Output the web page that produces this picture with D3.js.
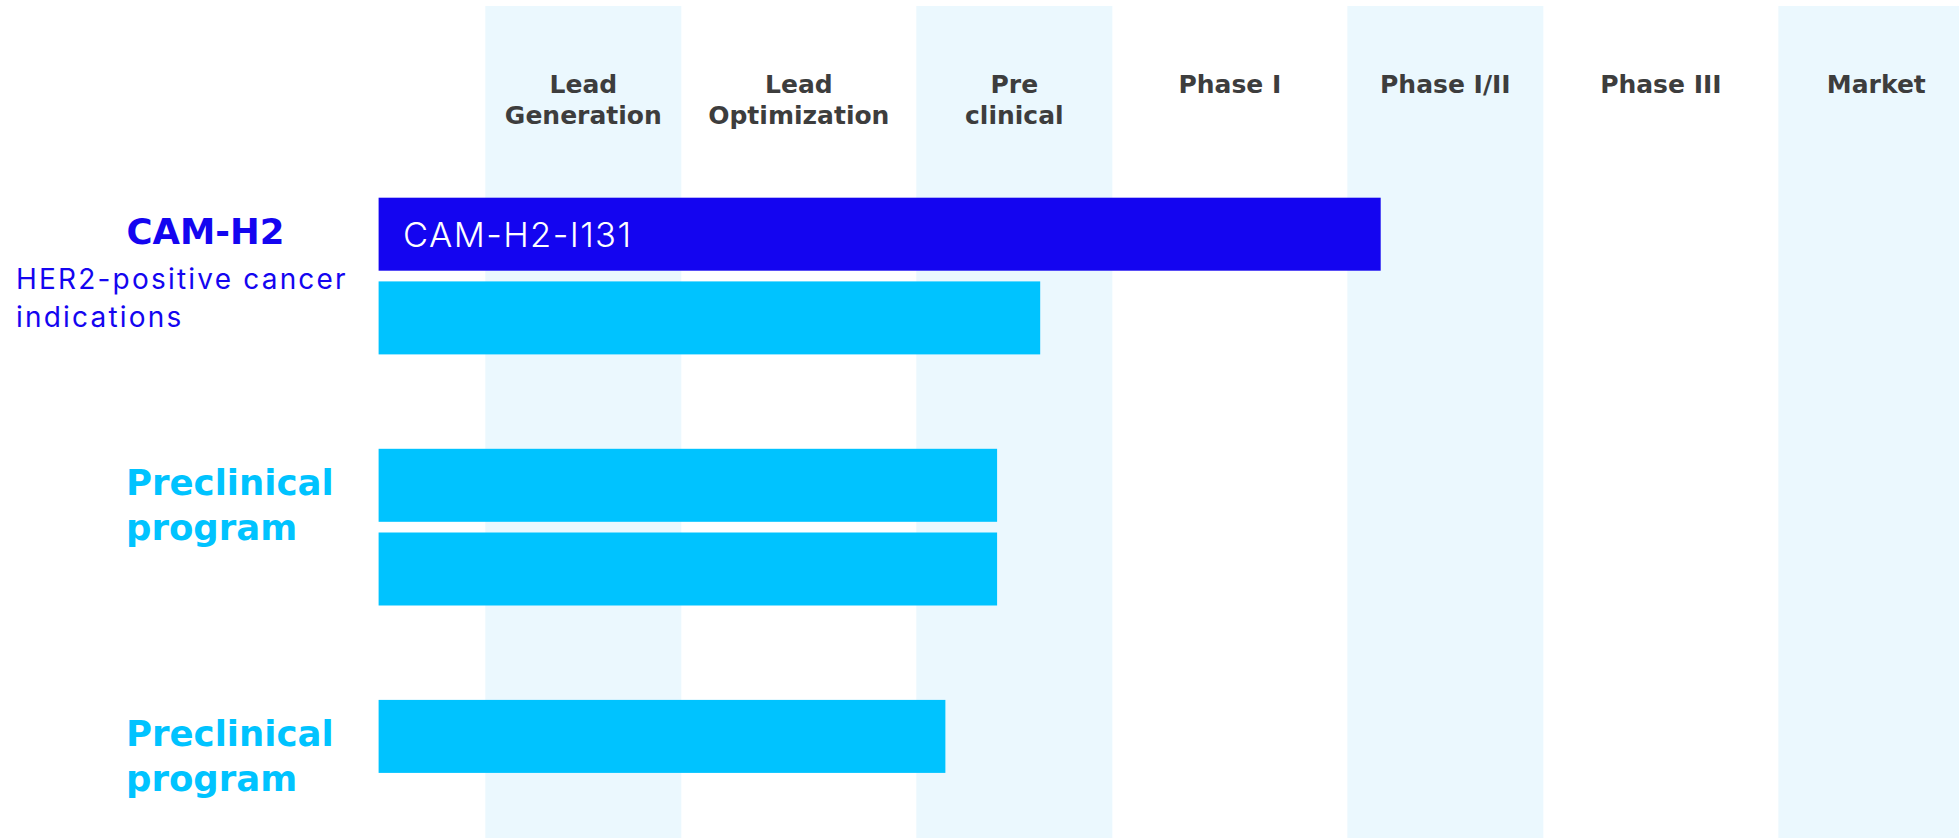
<!DOCTYPE html>
<html>
<head>
<meta charset="utf-8">
<script src="https://cdn.jsdelivr.net/npm/d3@7"></script>
<style>
  html, body { margin: 0; padding: 0; background: #ffffff; }
  svg { display: block; }
</style>
</head>
<body>
<svg id="chart" width="1959" height="839"></svg>
<script>
// ---- data ----
const phases = ["Lead\nGeneration", "Lead\nOptimization", "Pre\nclinical", "Phase I", "Phase I/II", "Phase III", "Market"];
const groupTitles = ["CAM-H2", "Preclinical\nprogram", "Preclinical\nprogram"];
const groupSubtitles = ["HER2-positive cancer\nindications", "", ""];
const groupKinds = ["lead", "preclinical", "preclinical"];
const programGroup = [0, 0, 1, 1, 2];
const programNames = ["CAM-H2-I131", "", "", "", ""];
const programKinds = ["lead", "preclinical", "preclinical", "preclinical", "preclinical"];
// progress measured in phase columns (0 = start of Lead Generation)
const programProgress = [4.2, 2.62, 2.42, 2.42, 2.18];
const progressStart = -0.45;

// ---- style ----
const colors = { lead: "#1405F0", preclinical: "#00C3FF", band: "#EBF8FE", header: "#3d3d3d" };
const boldFont = "'DejaVu Sans', sans-serif";
const lightFont = "Inter, 'DejaVu Sans', sans-serif";

const svg = d3.select("#chart");

// x: progress scale
const x = d3.scaleLinear().domain([progressStart, phases.length]).range([378.6, 1984.1]);
const xPhase = d3.scaleBand().domain(phases).range([x(0), x(phases.length)])
  .paddingInner(0.0905).paddingOuter(0.04525);

// y: slots, with a spacer between groups
const slots = [];
programGroup.forEach((g, i) => {
  if (i > 0 && programGroup[i - 1] !== g) slots.push("gap" + i);
  slots.push("p" + i);
});
const slotStep = 83.7, barH = 73;
const y = d3.scaleBand().domain(slots)
  .range([197.7, 197.7 + slots.length * slotStep - (slotStep - barH)])
  .paddingInner((slotStep - barH) / slotStep).paddingOuter(0);

// shaded phase columns
svg.append("g").selectAll("rect")
  .data(phases.filter((d, i) => i % 2 === 0))
  .join("rect")
  .attr("x", d => xPhase(d))
  .attr("width", xPhase.bandwidth())
  .attr("y", 6)
  .attr("height", 832)
  .attr("fill", colors.band);

// phase headers
const hdr = svg.append("g").selectAll("text")
  .data(phases)
  .join("text")
  .attr("x", d => xPhase(d) + xPhase.bandwidth() / 2)
  .attr("y", 93)
  .attr("text-anchor", "middle")
  .attr("font-family", boldFont)
  .attr("font-weight", "bold")
  .attr("font-size", 25)
  .attr("fill", colors.header);
hdr.selectAll("tspan")
  .data(d => d.split("\n").map(t => ({ t, x: xPhase(d) + xPhase.bandwidth() / 2 })))
  .join("tspan")
  .attr("x", d => d.x)
  .attr("dy", (d, i) => i === 0 ? 0 : 31)
  .text(d => d.t);

// bars
svg.append("g").selectAll("rect")
  .data(programProgress)
  .join("rect")
  .attr("x", x(progressStart))
  .attr("width", d => x(d) - x(progressStart))
  .attr("y", (d, i) => y("p" + i))
  .attr("height", y.bandwidth())
  .attr("fill", (d, i) => colors[programKinds[i]]);

// program names inside bars
svg.append("g").selectAll("text")
  .data(programNames)
  .join("text")
  .attr("x", x(progressStart) + 24.5)
  .attr("y", (d, i) => y("p" + i) + y.bandwidth() / 2 + 12.5)
  .attr("font-family", lightFont)
  .attr("font-weight", 300)
  .attr("font-size", 34.5)
  .attr("letter-spacing", 1.4)
  .attr("fill", "#ffffff")
  .text(d => d);

// group labels
groupTitles.forEach((title, g) => {
  const first = programGroup.indexOf(g);
  const top = y("p" + first);
  const kind = groupKinds[g];
  const centered = kind === "lead";
  const t = svg.append("text")
    .attr("font-family", boldFont)
    .attr("font-weight", "bold")
    .attr("font-size", 35.5)
    .attr("fill", colors[kind])
    .attr("text-anchor", centered ? "middle" : "start")
    .attr("y", top + 46);
  const tx = centered ? 205.5 : 126;
  t.selectAll("tspan").data(title.split("\n")).join("tspan")
    .attr("x", tx).attr("dy", (d, i) => i === 0 ? 0 : 45).text(d => d);

  if (groupSubtitles[g]) {
    const s = svg.append("text")
      .attr("font-family", lightFont)
      .attr("font-weight", 400)
      .attr("font-size", 28)
      .attr("letter-spacing", 2.2)
      .attr("fill", colors[kind])
      .attr("y", top + 91);
    s.selectAll("tspan").data(groupSubtitles[g].split("\n")).join("tspan")
      .attr("x", 16).attr("dy", (d, i) => i === 0 ? 0 : 38).text(d => d);
  }
});
</script>
</body>
</html>
